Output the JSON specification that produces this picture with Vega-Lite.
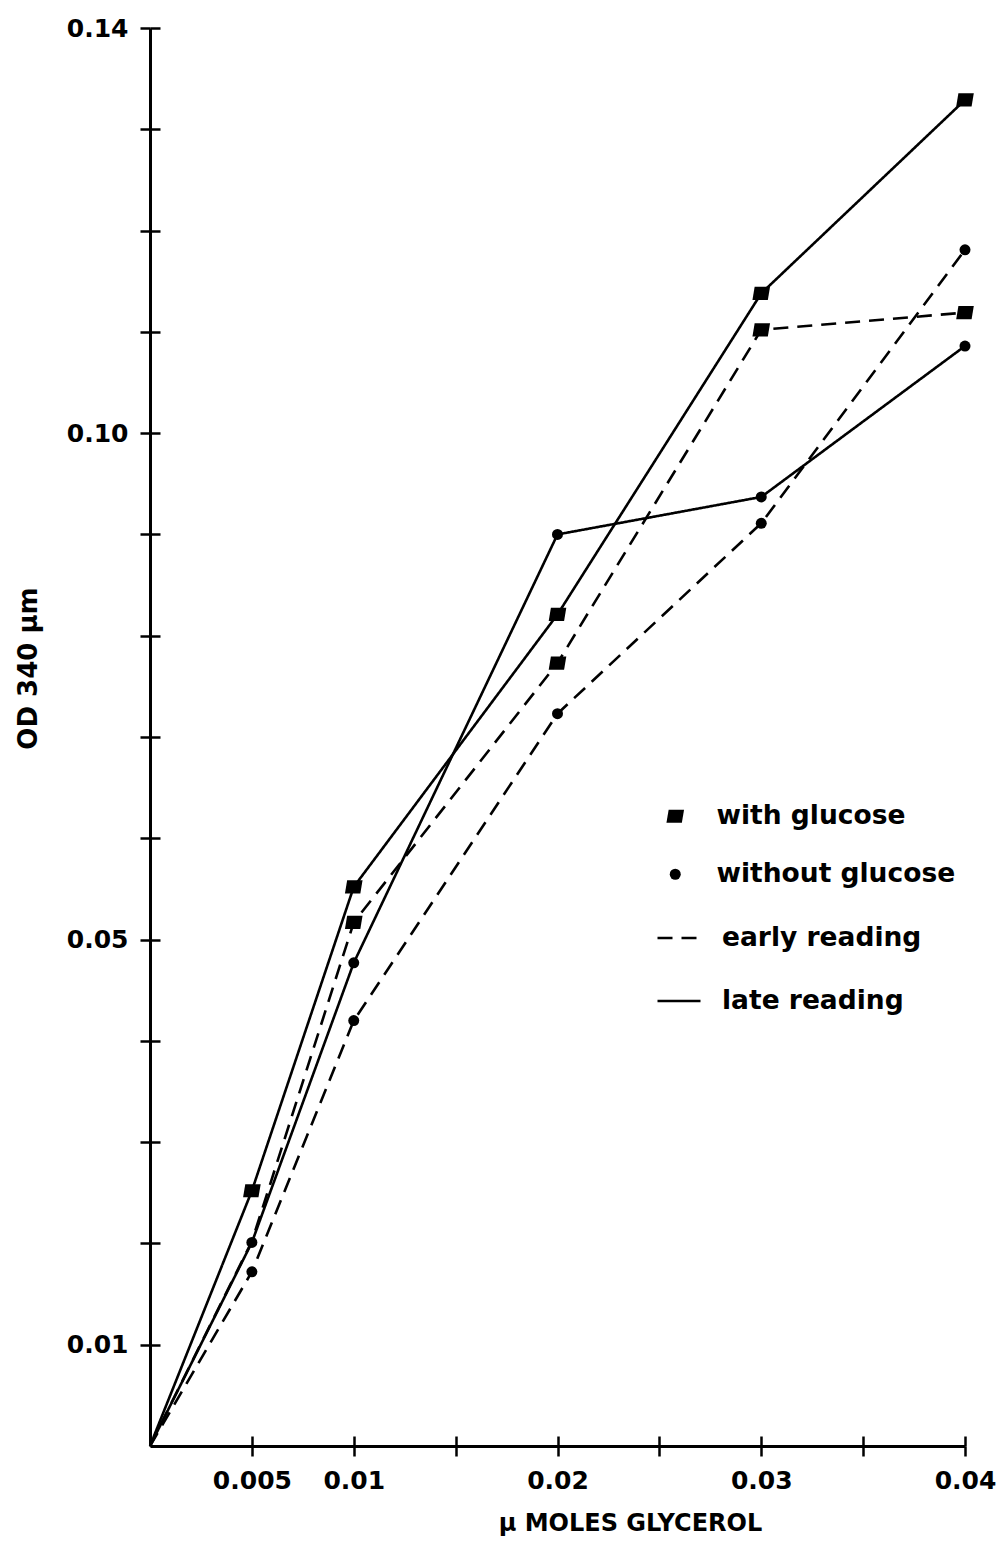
{
  "$schema": "https://vega.github.io/schema/vega-lite/v6.json",
  "width": 815,
  "height": 1418,
  "autosize": {"type": "none"},
  "padding": {"left": 150, "top": 28, "right": 38, "bottom": 105},
  "background": "white",
  "config": {"view": {"stroke": null}, "font": "DejaVu Sans"},
  "data": {
    "values": [
      {"x": 0, "od": 0, "glucose": "with glucose", "reading": "late reading"},
      {"x": 0.005, "od": 0.0252, "glucose": "with glucose", "reading": "late reading"},
      {"x": 0.01, "od": 0.0552, "glucose": "with glucose", "reading": "late reading"},
      {"x": 0.02, "od": 0.0821, "glucose": "with glucose", "reading": "late reading"},
      {"x": 0.03, "od": 0.1138, "glucose": "with glucose", "reading": "late reading"},
      {"x": 0.04, "od": 0.1329, "glucose": "with glucose", "reading": "late reading"},
      {"x": 0, "od": 0, "glucose": "with glucose", "reading": "early reading"},
      {"x": 0.005, "od": 0.0202, "glucose": "with glucose", "reading": "early reading"},
      {"x": 0.01, "od": 0.0517, "glucose": "with glucose", "reading": "early reading"},
      {"x": 0.02, "od": 0.0773, "glucose": "with glucose", "reading": "early reading"},
      {"x": 0.03, "od": 0.1102, "glucose": "with glucose", "reading": "early reading"},
      {"x": 0.04, "od": 0.1119, "glucose": "with glucose", "reading": "early reading"},
      {"x": 0, "od": 0, "glucose": "without glucose", "reading": "late reading"},
      {"x": 0.005, "od": 0.0201, "glucose": "without glucose", "reading": "late reading"},
      {"x": 0.01, "od": 0.0477, "glucose": "without glucose", "reading": "late reading"},
      {"x": 0.02, "od": 0.09, "glucose": "without glucose", "reading": "late reading"},
      {"x": 0.03, "od": 0.0937, "glucose": "without glucose", "reading": "late reading"},
      {"x": 0.04, "od": 0.1086, "glucose": "without glucose", "reading": "late reading"},
      {"x": 0, "od": 0, "glucose": "without glucose", "reading": "early reading"},
      {"x": 0.005, "od": 0.0172, "glucose": "without glucose", "reading": "early reading"},
      {"x": 0.01, "od": 0.042, "glucose": "without glucose", "reading": "early reading"},
      {"x": 0.02, "od": 0.0723, "glucose": "without glucose", "reading": "early reading"},
      {"x": 0.03, "od": 0.0911, "glucose": "without glucose", "reading": "early reading"},
      {"x": 0.04, "od": 0.1181, "glucose": "without glucose", "reading": "early reading"}
    ]
  },
  "layer": [
    {
      "mark": {"type": "line", "color": "black", "strokeWidth": 2.6},
      "encoding": {
        "x": {
          "field": "x", "type": "quantitative",
          "scale": {"domain": [0, 0.04], "nice": false, "zero": true},
          "axis": {
            "orient": "bottom",
            "values": [0.005, 0.01, 0.015, 0.02, 0.025, 0.03, 0.035, 0.04],
            "labelExpr": "indexof([0.015, 0.025, 0.035], datum.value) >= 0 ? '' : format(datum.value, '~g')",
            "tickSize": 10, "tickWidth": 2.5, "tickColor": "black",
            "domainWidth": 3, "domainColor": "black",
            "labelFont": "DejaVu Sans", "labelFontSize": 25, "labelFontWeight": "bold", "labelColor": "black",
            "labelPadding": 12, "labelFlush": false, "labelOverlap": false, "grid": false,
            "title": "μ MOLES GLYCEROL",
            "titleFont": "DejaVu Sans", "titleFontSize": 24, "titleFontWeight": "bold", "titleColor": "black",
            "titleX": 480, "titleY": 77, "titleBaseline": "middle", "titleAlign": "center"
          }
        },
        "y": {
          "field": "od", "type": "quantitative",
          "scale": {"domain": [0, 0.14], "nice": false, "zero": true},
          "axis": {
            "orient": "left",
            "values": [0.01, 0.02, 0.03, 0.04, 0.05, 0.06, 0.07, 0.08, 0.09, 0.1, 0.11, 0.12, 0.13, 0.14],
            "labelExpr": "indexof(['0.01', '0.05', '0.10', '0.14'], format(datum.value, '.2f')) >= 0 ? format(datum.value, '.2f') : ''",
            "tickSize": 10, "tickWidth": 2.5, "tickColor": "black",
            "domainWidth": 3, "domainColor": "black",
            "labelFont": "DejaVu Sans", "labelFontSize": 25, "labelFontWeight": "bold", "labelColor": "black",
            "labelPadding": 12, "labelFlush": false, "labelOverlap": false, "grid": false,
            "title": "OD 340 μm",
            "titleFont": "DejaVu Sans", "titleFontSize": 26, "titleFontWeight": "bold", "titleColor": "black",
            "titleAngle": 270, "titleX": -122, "titleY": 640, "titleBaseline": "middle", "titleAlign": "center"
          }
        },
        "strokeDash": {
          "field": "reading", "type": "nominal",
          "scale": {"domain": ["early reading", "late reading"], "range": [[15, 9], [1, 0]]},
          "legend": {
            "title": null, "orient": "none", "legendX": 506, "legendY": 887,
            "labelFont": "DejaVu Sans", "labelFontSize": 26.5, "labelFontWeight": "bold", "labelColor": "black",
            "labelOffset": 20, "rowPadding": 26, "labelLimit": 400,
            "symbolSize": 1849, "symbolStrokeWidth": 2.6, "symbolStrokeColor": "black", "symbolType": "stroke"
          }
        },
        "detail": {"field": "glucose", "type": "nominal"}
      }
    },
    {
      "transform": [
        {"filter": "datum.x > 0 && !(datum.glucose == 'with glucose' && datum.reading == 'early reading' && datum.x == 0.005)"}
      ],
      "mark": {"type": "point", "filled": true, "color": "black", "opacity": 1, "size": 121},
      "encoding": {
        "x": {
          "field": "x", "type": "quantitative",
          "axis": {
            "orient": "top", "offset": -1418,
            "values": [0.005, 0.01, 0.015, 0.02, 0.025, 0.03, 0.035, 0.04],
            "labels": false, "domain": false, "grid": false,
            "tickSize": 10, "tickWidth": 2.5, "tickColor": "black", "title": null
          }
        },
        "y": {
          "field": "od", "type": "quantitative",
          "axis": {
            "orient": "right", "offset": -815,
            "values": [0.01, 0.02, 0.03, 0.04, 0.05, 0.06, 0.07, 0.08, 0.09, 0.1, 0.11, 0.12, 0.13, 0.14],
            "labels": false, "domain": false, "grid": false,
            "tickSize": 10, "tickWidth": 2.5, "tickColor": "black", "title": null
          }
        },
        "shape": {
          "field": "glucose", "type": "nominal",
          "scale": {"domain": ["with glucose", "without glucose"], "range": ["M -1.2 -1.2 L 1.6 -1.2 L 1.2 1.2 L -1.6 1.2 Z", "circle"]},
          "legend": {
            "title": null, "orient": "none", "legendX": 512, "legendY": 775,
            "labelFont": "DejaVu Sans", "labelFontSize": 26.5, "labelFontWeight": "bold", "labelColor": "black",
            "labelOffset": 28, "rowPadding": 31, "labelLimit": 400,
            "symbolSize": 121, "symbolFillColor": "black", "symbolStrokeWidth": 0, "symbolOpacity": 1
          }
        }
      }
    }
  ],
  "resolve": {"axis": {"x": "independent", "y": "independent"}}
}
